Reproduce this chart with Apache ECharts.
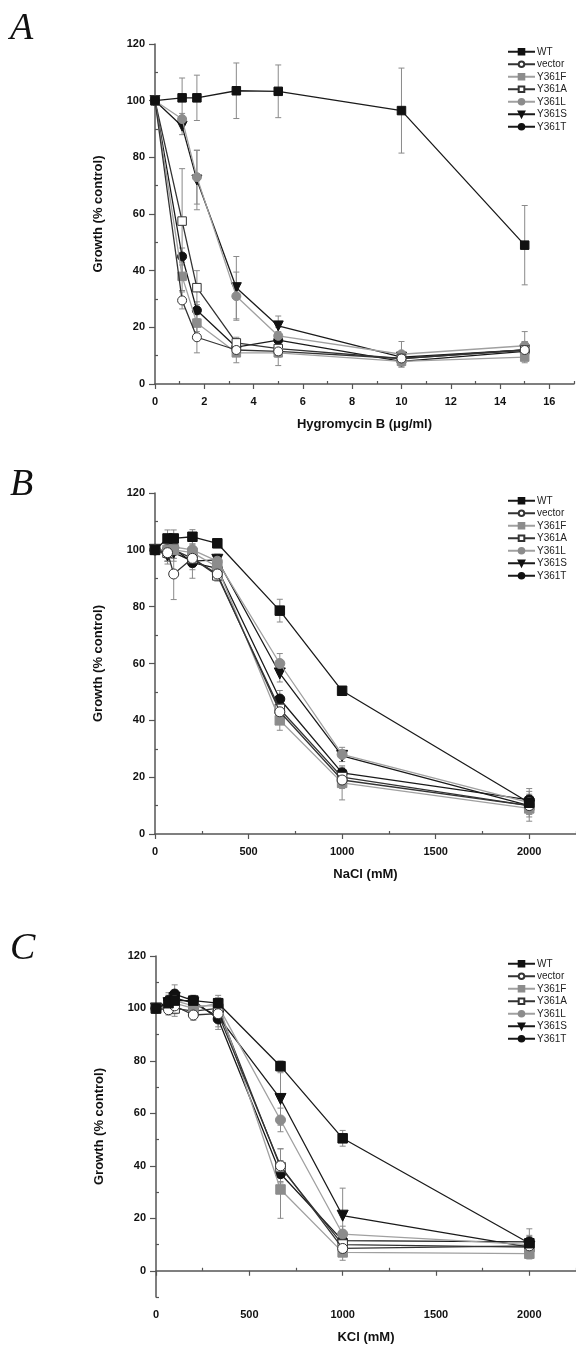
<!DOCTYPE html>
<html>
<head>
<meta charset="utf-8">
<script src="https://cdn.jsdelivr.net/npm/echarts@6/dist/echarts.min.js"></script>
<style>
html,body{margin:0;padding:0;background:#fff;}
#chart{width:576px;height:1349px;}
</style>
</head>
<body>
<div id="chart"></div>
<script>
// ---------- data ----------
const seriesNames = ['WT', 'vector', 'Y361F', 'Y361A', 'Y361L', 'Y361S', 'Y361T'];

// Panel A: Hygromycin B (µg/ml)
const hygX = [0, 1.1, 1.7, 3.3, 5, 10, 15];
const hygWT     = [100, 101, 101, 103.5, 103.3, 96.5, 49];
const hygVector = [100, 29.5, 16.5, 12, 11.5, 9, 12];
const hygF      = [100, 38, 21.5, 11, 11, 8, 9.5];
const hygA      = [100, 57.5, 34, 14.5, 12.5, 9, 12];
const hygL      = [100, 93.5, 73, 31, 17, 10.5, 13.5];
const hygS      = [100, 91, 72, 34, 20.5, 9.5, 12];
const hygT      = [100, 45, 26, 13, 15.5, 8, 11.5];
const hygWTErr     = [0, 7, 8, 9.8, 9.3, 15, 14];
const hygVectorErr = [0, 3, 5.5, 2, 2, 1.5, 3];
const hygFErr      = [0, 5, 3, 3.5, 4.5, 2, 2];
const hygAErr      = [0, 18.5, 6, 2, 2, 2, 2];
const hygLErr      = [0, 2, 9.5, 8.5, 3, 4.5, 5];
const hygSErr      = [0, 3, 10.5, 11, 3.5, 2, 3];
const hygTErr      = [0, 3, 3, 3, 3, 1.5, 2];

// Panel B: NaCl (mM)
const naclX = [0, 67, 100, 200, 333, 667, 1000, 2000];
const naclWT     = [100, 104, 104, 104.6, 102.3, 78.6, 50.4, 11];
const naclVector = [100, 99, 91.5, 97, 91.5, 43, 19, 10];
const naclF      = [100, 100, 100, 99, 94, 40, 18, 9];
const naclA      = [100, 99, 100, 97, 91, 44, 20, 10];
const naclL      = [100, 99, 101, 100, 96, 60, 28, 11];
const naclS      = [100, 98, 99, 96, 96.5, 56.5, 27.5, 10];
const naclT      = [100, 100, 100.5, 95.5, 93.5, 47.5, 21.5, 12];
const naclWTErr     = [0, 3, 3, 2.5, 1.5, 4, 1.5, 3];
const naclVectorErr = [0, 3, 9, 3, 2, 3, 3, 3];
const naclFErr      = [0, 3, 3, 3, 2, 3.5, 6, 4.5];
const naclAErr      = [0, 3, 3, 3, 2, 4, 3, 3];
const naclLErr      = [0, 3, 3, 3, 2, 3.5, 2.5, 5];
const naclSErr      = [0, 3, 3, 3, 2, 3, 2, 3];
const naclTErr      = [0, 2, 2, 5.5, 2, 3, 2, 3];

// Panel C: KCl (mM)
const kclX = [0, 67, 100, 200, 333, 667, 1000, 2000];
const kclWT     = [100, 102, 103, 103, 102, 78, 50.5, 10.5];
const kclVector = [100, 99.5, 101, 97.5, 98, 40, 8.5, 9.5];
const kclF      = [100, 101, 102, 100, 102, 31, 7, 6.5];
const kclA      = [100, 101, 100, 99, 100, 39.5, 10, 9];
const kclL      = [100, 100, 103, 101, 101, 57.5, 14, 10];
const kclS      = [100, 102, 104, 102, 97, 65.5, 21, 9];
const kclT      = [100, 103, 105.5, 103, 96, 37, 11.5, 11];
const kclWTErr     = [0, 3, 3, 2, 2, 2, 3, 3];
const kclVectorErr = [0, 2, 3, 2, 3, 6.5, 3, 3];
const kclFErr      = [0, 2, 3, 2, 3, 11, 3, 2];
const kclAErr      = [0, 2, 3, 2, 3, 7, 3, 3];
const kclLErr      = [0, 2, 3, 2, 3, 4.5, 3, 3];
const kclSErr      = [0, 3, 3, 2, 5, 10, 10.5, 3];
const kclTErr      = [0, 3, 3.5, 2, 3, 3, 3, 5];

// tick labels
const hygTicks = [0, 2, 4, 6, 8, 10, 12, 14, 16];
const hygMinor = [1, 3, 5, 7, 9, 11, 13, 15, 17];
const saltTicks = [0, 500, 1000, 1500, 2000];
const saltMinor = [250, 750, 1250, 1750, 2250];
const yTicks = [0, 20, 40, 60, 80, 100, 120];
const yMinor = [10, 30, 50, 70, 90, 110];
const yMinorC = [-10, 10, 30, 50, 70, 90, 110];

// ---------- styles ----------
const styles = {
  'WT':     {symbol: 'rect',     fill: '#111', border: '#111', line: '#1a1a1a', rot: 0},
  'vector': {symbol: 'circle',   fill: '#fff', border: '#333', line: '#333',    rot: 0},
  'Y361F':  {symbol: 'rect',     fill: '#8c8c8c', border: '#8c8c8c', line: '#a0a0a0', rot: 0},
  'Y361A':  {symbol: 'rect',     fill: '#fff', border: '#333', line: '#333',    rot: 0},
  'Y361L':  {symbol: 'circle',   fill: '#8c8c8c', border: '#8c8c8c', line: '#a0a0a0', rot: 0},
  'Y361S':  {symbol: 'triangle', fill: '#111', border: '#111', line: '#1a1a1a', rot: 180},
  'Y361T':  {symbol: 'circle',   fill: '#111', border: '#111', line: '#1a1a1a', rot: 0}
};

const panels = [
  {x: hygX,  vals: [hygWT, hygVector, hygF, hygA, hygL, hygS, hygT],
   errs: [hygWTErr, hygVectorErr, hygFErr, hygAErr, hygLErr, hygSErr, hygTErr],
   grid: {left: 155, top: 44, width: 419, height: 340},
   xMin: 0, xMax: 17, xTicks: hygTicks, xMinor: hygMinor,
   yMin: 0, yMax: 120, yMinor: yMinor,
   xName: 'Hygromycin B (\u03bcg/ml)', letter: 'A', letterTop: 10, legendTop: 41, sym: 9},
  {x: naclX, vals: [naclWT, naclVector, naclF, naclA, naclL, naclS, naclT],
   errs: [naclWTErr, naclVectorErr, naclFErr, naclAErr, naclLErr, naclSErr, naclTErr],
   grid: {left: 155, top: 493, width: 421, height: 341},
   xMin: 0, xMax: 2250, xTicks: saltTicks, xMinor: saltMinor,
   yMin: 0, yMax: 120, yMinor: yMinor,
   xName: 'NaCl (mM)', letter: 'B', letterTop: 466, legendTop: 490, sym: 10},
  {x: kclX,  vals: [kclWT, kclVector, kclF, kclA, kclL, kclS, kclT],
   errs: [kclWTErr, kclVectorErr, kclFErr, kclAErr, kclLErr, kclSErr, kclTErr],
   grid: {left: 156, top: 956, width: 420, height: 341},
   xMin: 0, xMax: 2250, xTicks: saltTicks, xMinor: saltMinor,
   yMin: -10, yMax: 120, yMinor: yMinorC,
   xName: 'KCl (mM)', letter: 'C', letterTop: 930, legendTop: 953, sym: 10}
];

const axisColor = '#555';
const labelStyle = {fontFamily: 'Liberation Sans', fontWeight: 'bold', fontSize: 11, color: '#111'};
const nameStyle = {fontFamily: 'Liberation Sans', fontWeight: 'bold', fontSize: 13, color: '#111'};
const plainNum = v => String(v);

const option = {
  animation: false,
  backgroundColor: '#fff',
  grid: [], xAxis: [], yAxis: [], series: [], legend: [], graphic: []
};

panels.forEach((p, pi) => {
  option.grid.push(Object.assign({containLabel: false}, p.grid));
  const xi = option.xAxis.length, yi = option.yAxis.length;
  // main x axis
  option.xAxis.push({
    type: 'value', gridIndex: pi, min: p.xMin, max: p.xMax,
    name: p.xName, nameLocation: 'middle', nameGap: 34, nameTextStyle: nameStyle,
    axisLine: {lineStyle: {color: axisColor, width: 1.5}},
    axisTick: {customValues: p.xTicks, length: 5, lineStyle: {color: axisColor, width: 1.2}},
    axisLabel: {customValues: p.xTicks, margin: 12, formatter: plainNum, ...labelStyle},
    splitLine: {show: false}
  });
  // minor x ticks
  option.xAxis.push({
    type: 'value', gridIndex: pi, min: p.xMin, max: p.xMax,
    axisLine: {show: false},
    axisTick: {customValues: p.xMinor, length: 3, lineStyle: {color: axisColor, width: 1.2}},
    axisLabel: {show: false}, splitLine: {show: false}
  });
  option.yAxis.push({
    type: 'value', gridIndex: pi, min: p.yMin, max: p.yMax,
    name: 'Growth (% control)', nameLocation: 'middle', nameGap: 50, nameTextStyle: nameStyle,
    axisLine: {lineStyle: {color: axisColor, width: 1.5}},
    axisTick: {customValues: yTicks, length: 6, lineStyle: {color: axisColor, width: 1.2}},
    axisLabel: {customValues: yTicks, margin: 10, formatter: plainNum, ...labelStyle},
    splitLine: {show: false}
  });
  option.yAxis.push({
    type: 'value', gridIndex: pi, min: p.yMin, max: p.yMax,
    axisLine: {show: false},
    axisTick: {customValues: p.yMinor, length: 3, lineStyle: {color: axisColor, width: 1.2}},
    axisLabel: {show: false}, splitLine: {show: false}
  });

  // error bars
  const errData = [];
  seriesNames.forEach((n, si) => {
    p.x.forEach((xv, k) => {
      const e = p.errs[si][k];
      if (e > 0) errData.push([xv, p.vals[si][k] - e, p.vals[si][k] + e]);
    });
  });
  option.series.push({
    type: 'custom', xAxisIndex: xi, yAxisIndex: yi, z: 1, silent: true,
    data: errData, encode: {x: 0, y: [1, 2]},
    renderItem: function (params, api) {
      const xv = api.value(0);
      const lo = api.coord([xv, api.value(1)]);
      const hi = api.coord([xv, api.value(2)]);
      const st = {stroke: '#8a8a8a', lineWidth: 1};
      return {type: 'group', children: [
        {type: 'line', shape: {x1: lo[0], y1: lo[1], x2: hi[0], y2: hi[1]}, style: st},
        {type: 'line', shape: {x1: lo[0] - 3, y1: lo[1], x2: lo[0] + 3, y2: lo[1]}, style: st},
        {type: 'line', shape: {x1: hi[0] - 3, y1: hi[1], x2: hi[0] + 3, y2: hi[1]}, style: st}
      ]};
    }
  });

  // line series
  seriesNames.forEach((n, si) => {
    const s = styles[n];
    option.series.push({
      type: 'line', name: n, xAxisIndex: xi, yAxisIndex: yi, z: 3 + (6 - si),
      data: p.x.map((xv, k) => [xv, p.vals[si][k]]),
      symbol: s.symbol, symbolRotate: s.rot,
      symbolSize: s.symbol === 'triangle' ? p.sym + 1 : (s.symbol === 'rect' ? p.sym - 0.5 : p.sym),
      showAllSymbol: true,
      lineStyle: {color: s.line, width: 1.3},
      itemStyle: {color: s.fill, borderColor: s.border, borderWidth: 1},
      emphasis: {disabled: true}
    });
  });

  option.legend.push({
    data: seriesNames, orient: 'vertical', left: 502, top: p.legendTop,
    itemWidth: 27, itemHeight: 7, itemGap: 1,
    textStyle: {fontFamily: 'Liberation Sans', fontSize: 10, color: '#222', lineHeight: 11.5, padding: [0, 0, 0, -3]},
    selectedMode: false
  });

  option.graphic.push({
    type: 'text', left: 10, top: p.letterTop,
    style: {text: p.letter, font: 'italic 38px "Liberation Serif"', fill: '#111'}
  });
});

const chart = echarts.init(document.getElementById('chart'), null, {renderer: 'canvas'});
chart.setOption(option);
</script>
</body>
</html>
